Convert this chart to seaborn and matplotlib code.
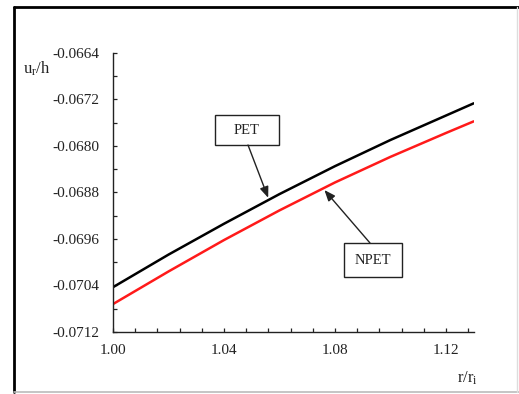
import numpy as np
import pandas as pd
import matplotlib
matplotlib.use("Agg")
import matplotlib.pyplot as plt
from matplotlib.patches import Rectangle
from matplotlib.lines import Line2D
from matplotlib.ticker import MultipleLocator, FormatStrFormatter
import seaborn as sns

# radial position r/r_i
r_ratio = [1.00, 1.02, 1.04, 1.06, 1.08, 1.10, 1.12, 1.13]
# normalised radial displacement u_r/h
u_pet = [-0.07043, -0.06987, -0.06934, -0.06883, -0.06835, -0.06790, -0.06748, -0.06727]
u_npet = [-0.07072, -0.07016, -0.06962, -0.06911, -0.06863, -0.06819, -0.06778, -0.06758]
series_names = ["PET", "NPET"]
y_ticks = [-0.0664, -0.0672, -0.0680, -0.0688, -0.0696, -0.0704, -0.0712]
x_ticks = [1.00, 1.04, 1.08, 1.12]

sns.set_theme(style="ticks")
plt.rcParams["font.family"] = ["Liberation Serif", "DejaVu Serif"]
plt.rcParams["mathtext.fontset"] = "custom"
plt.rcParams["mathtext.rm"] = "Liberation Serif"
plt.rcParams["mathtext.it"] = "Liberation Serif"

df = pd.DataFrame({
    "r": r_ratio * 2,
    "u": u_pet + u_npet,
    "model": [series_names[0]] * len(r_ratio) + [series_names[1]] * len(r_ratio),
})

W, H = 519, 394
fig = plt.figure(figsize=(W / 100, H / 100), dpi=100)
fig.patch.set_facecolor("white")

ax_left, ax_right, ax_top, ax_bot = 113, 473.7, 52.7, 332
ax = fig.add_axes([ax_left / W, 1 - ax_bot / H, (ax_right - ax_left) / W, (ax_bot - ax_top) / H])

sns.lineplot(data=df, x="r", y="u", hue="model", palette={"PET": "black", "NPET": "#ff1a1a"},
             linewidth=1.8, legend=False, ax=ax, sort=True)

ax.set_xlim(1.00, 1.13)
ax.set_ylim(min(y_ticks), max(y_ticks))
ax.set_xticks(x_ticks)
ax.set_yticks(y_ticks)
ax.xaxis.set_major_formatter(FormatStrFormatter("%.2f"))
ax.yaxis.set_major_formatter(FormatStrFormatter("%.4f"))
ax.xaxis.set_minor_locator(MultipleLocator(0.008))
ax.yaxis.set_minor_locator(MultipleLocator(0.0004))
ax.tick_params(axis="both", which="both", direction="in", color="#222222", width=0.9)
ax.tick_params(axis="both", which="major", length=3, labelsize=11, labelcolor="#222222")
ax.tick_params(axis="both", which="minor", length=3)
ax.tick_params(axis="y", which="major", pad=10)
ax.tick_params(axis="x", which="major", pad=9)
ax.set_xlabel("")
ax.set_ylabel("")
for side in ("top", "right"):
    ax.spines[side].set_visible(False)
for side in ("left", "bottom"):
    ax.spines[side].set_color("#222222")
    ax.spines[side].set_linewidth(1.0)

# axis titles
fig.text(23 / W, 1 - 69 / H, r"u$_\mathrm{r}$/h", ha="left", va="center", fontsize=12, color="#222222")
fig.text(467 / W, 1 - 378 / H, r"r/r$_\mathrm{i}$", ha="center", va="center", fontsize=12, color="#222222")

# labelled boxes with arrows pointing at the curves
def to_axes(px, py):
    return (px - ax_left) / (ax_right - ax_left), (ax_bot - py) / (ax_bot - ax_top)

def callout(label, box_px, start_px, tip_x, series):
    x0, y1 = to_axes(box_px[0], box_px[1])
    x1, y0 = to_axes(box_px[2], box_px[3])
    ax.add_patch(Rectangle((x0, y0), x1 - x0, y1 - y0, transform=ax.transAxes,
                           facecolor="white", edgecolor="#222222", linewidth=1.0, zorder=5))
    ax.text((x0 + x1) / 2, (y0 + y1) / 2, label, transform=ax.transAxes, ha="center",
            va="center", fontsize=10.5, color="#222222", zorder=6)
    tip_y = float(np.interp(tip_x, r_ratio, series))
    ax.annotate("", xy=(tip_x, tip_y), xycoords="data",
                xytext=to_axes(*start_px), textcoords="axes fraction",
                arrowprops=dict(arrowstyle="-|>,head_length=0.55,head_width=0.22",
                                color="#222222", lw=1.0, shrinkA=0, shrinkB=1.5), zorder=6)

callout("PET", (215, 115, 279, 145), (248, 145), 1.0562, u_pet)
callout("NPET", (344, 243, 402, 277), (370, 243), 1.0757, u_npet)

# page frame
frame = [
    ((14, W), (7, 7), "black", 2.0),
    ((14, 14), (7, 392), "black", 2.0),
    ((14, W), (392, 392), "#bbbbbb", 1.2),
    ((517, 517), (7, 392), "#dddddd", 1.0),
]
for xs, ys, col, lw in frame:
    fig.add_artist(Line2D([x / W for x in xs], [1 - y / H for y in ys],
                          transform=fig.transFigure, color=col, linewidth=lw))

fig.savefig("out.png", dpi=100)
